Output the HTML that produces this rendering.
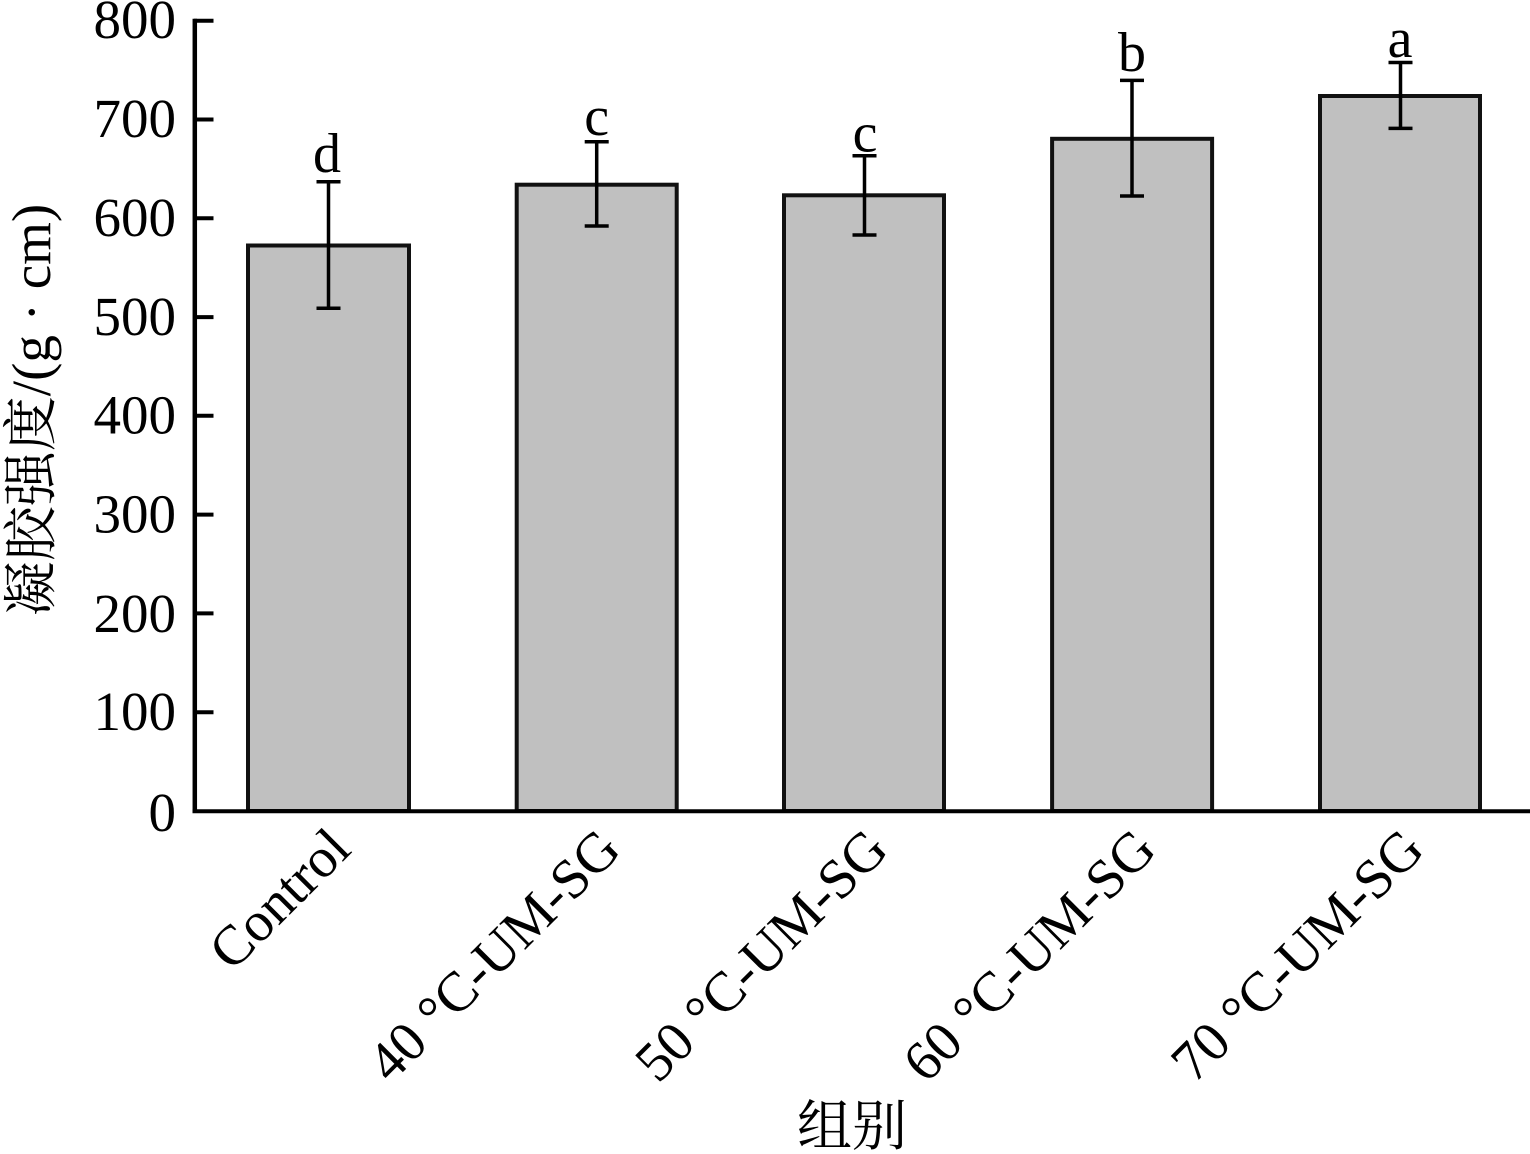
<!DOCTYPE html>
<html>
<head>
<meta charset="utf-8">
<style>
  html, body { margin: 0; padding: 0; background: #ffffff; }
  svg { display: block; }
  .t { font-family: "Liberation Serif", "Noto Serif CJK SC", serif; fill: #000; }
</style>
</head>
<body>
<svg width="1530" height="1154" viewBox="0 0 1530 1154" xmlns="http://www.w3.org/2000/svg">
  <rect x="0" y="0" width="1530" height="1154" fill="#ffffff"/>

  <!-- Bars -->
  <g fill="#c0c0c0" stroke="#111" stroke-width="4">
    <rect x="248" y="245.5" width="161" height="565.5"/>
    <rect x="516.7" y="184.7" width="160" height="626.3"/>
    <rect x="784" y="195.3" width="160" height="615.7"/>
    <rect x="1052.1" y="138.8" width="160" height="672.2"/>
    <rect x="1320" y="96" width="160" height="715"/>
  </g>

  <!-- Error bars -->
  <g stroke="#000" stroke-width="3.5" fill="none">
    <line x1="328.5" y1="181.7" x2="328.5" y2="308.3"/>
    <line x1="316.5" y1="181.7" x2="340.5" y2="181.7"/>
    <line x1="316.5" y1="308.3" x2="340.5" y2="308.3"/>

    <line x1="596.7" y1="141.7" x2="596.7" y2="226"/>
    <line x1="584.7" y1="141.7" x2="608.7" y2="141.7"/>
    <line x1="584.7" y1="226" x2="608.7" y2="226"/>

    <line x1="864.5" y1="155.7" x2="864.5" y2="235"/>
    <line x1="852.5" y1="155.7" x2="876.5" y2="155.7"/>
    <line x1="852.5" y1="235" x2="876.5" y2="235"/>

    <line x1="1132" y1="80.4" x2="1132" y2="196"/>
    <line x1="1120" y1="80.4" x2="1144" y2="80.4"/>
    <line x1="1120" y1="196" x2="1144" y2="196"/>

    <line x1="1400.5" y1="62.5" x2="1400.5" y2="128.4"/>
    <line x1="1388.5" y1="62.5" x2="1412.5" y2="62.5"/>
    <line x1="1388.5" y1="128.4" x2="1412.5" y2="128.4"/>
  </g>

  <!-- Significance letters -->
  <g class="t" font-size="56" text-anchor="middle">
    <text x="327" y="172">d</text>
    <text x="596.7" y="135">c</text>
    <text x="865" y="151.7">c</text>
    <text x="1132" y="71">b</text>
    <text x="1400" y="57">a</text>
  </g>

  <!-- Axes -->
  <g stroke="#000" fill="none">
    <line x1="194.8" y1="18.7" x2="194.8" y2="813" stroke-width="4.5"/>
    <line x1="192.5" y1="811.3" x2="1530" y2="811.3" stroke-width="4"/>
    <g stroke-width="4">
      <line x1="194" y1="20.7" x2="213.5" y2="20.7"/>
      <line x1="194" y1="119.5" x2="213.5" y2="119.5"/>
      <line x1="194" y1="218.3" x2="213.5" y2="218.3"/>
      <line x1="194" y1="317.1" x2="213.5" y2="317.1"/>
      <line x1="194" y1="415.8" x2="213.5" y2="415.8"/>
      <line x1="194" y1="514.6" x2="213.5" y2="514.6"/>
      <line x1="194" y1="613.4" x2="213.5" y2="613.4"/>
      <line x1="194" y1="712.2" x2="213.5" y2="712.2"/>
    </g>
  </g>

  <!-- Y tick labels -->
  <g class="t" font-size="55" text-anchor="end">
    <text x="176" y="38">800</text>
    <text x="176" y="137">700</text>
    <text x="176" y="236">600</text>
    <text x="176" y="335">500</text>
    <text x="176" y="433.5">400</text>
    <text x="176" y="532.5">300</text>
    <text x="176" y="632">200</text>
    <text x="176" y="730">100</text>
    <text x="176" y="831">0</text>
  </g>

  <!-- Y axis title -->
  <text class="t" font-size="55" text-anchor="middle" transform="translate(50,410) rotate(-90)">凝胶强度/(g · cm)</text>

  <!-- X tick labels (rotated 45°) -->
  <g class="t" font-size="56" text-anchor="end">
    <text transform="translate(353,851.5) rotate(-45)">Control</text>
    <text transform="translate(623,852) rotate(-45)">40 °C-UM-SG</text>
    <text transform="translate(890.5,852) rotate(-45)">50 °C-UM-SG</text>
    <text transform="translate(1158.5,852) rotate(-45)">60 °C-UM-SG</text>
    <text transform="translate(1426.5,852) rotate(-45)">70 °C-UM-SG</text>
  </g>

  <!-- X axis title -->
  <text class="t" font-size="55" text-anchor="middle" x="852" y="1145">组别</text>
</svg>
</body>
</html>
